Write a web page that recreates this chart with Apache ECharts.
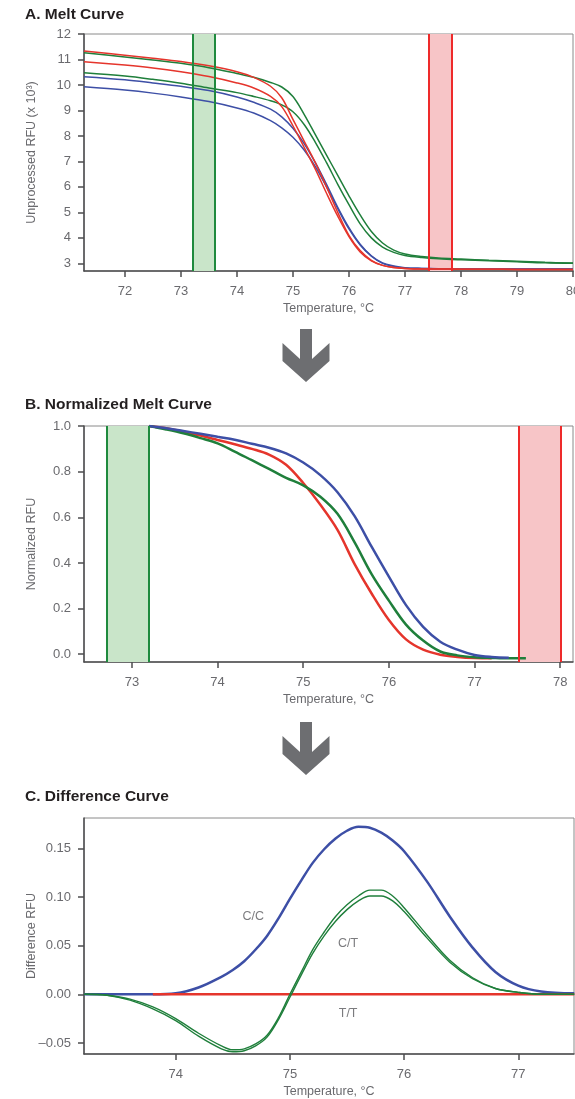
<!DOCTYPE html>
<html>
<head>
<meta charset="utf-8">
<title>Melt curve / difference curve</title>
<script src="https://cdn.jsdelivr.net/npm/echarts@6/dist/echarts.min.js"></script>
<style>
  html, body { margin: 0; padding: 0; background: #fff; }
  #chart { width: 575px; height: 1099px; }
</style>
</head>
<body>
<div id="chart"></div>
<script>
// A. raw melt curve (RFU x 10^3)
var tempA = [71.27, 72, 72.5, 73, 73.5, 74, 74.3, 74.6, 74.8, 75, 75.2, 75.4, 75.6, 75.8, 76, 76.2, 76.4, 76.6, 76.8, 77, 77.3, 77.6, 78, 78.5, 79, 79.5, 80];
var redA1 = [11.33, 11.17, 11.05, 10.92, 10.75, 10.52, 10.3, 9.95, 9.5, 8.65, 7.8, 6.95, 6.0, 5.0, 4.1, 3.5, 3.12, 2.92, 2.84, 2.8, 2.78, 2.78, 2.77, 2.77, 2.76, 2.76, 2.76];
var redA2 = [10.91, 10.78, 10.67, 10.52, 10.33, 10.08, 9.88, 9.55, 9.15, 8.4, 7.55, 6.7, 5.75, 4.85, 4.05, 3.45, 3.1, 2.92, 2.84, 2.8, 2.78, 2.78, 2.77, 2.77, 2.76, 2.76, 2.76];
var greenA1 = [11.26, 11.1, 10.98, 10.85, 10.68, 10.45, 10.3, 10.1, 9.92, 9.55, 8.85, 8.05, 7.25, 6.45, 5.65, 4.9, 4.25, 3.8, 3.52, 3.37, 3.27, 3.21, 3.17, 3.12, 3.08, 3.04, 3.01];
var greenA2 = [10.48, 10.35, 10.22, 10.07, 9.88, 9.7, 9.55, 9.38, 9.22, 8.95, 8.45, 7.75, 6.95, 6.1, 5.3, 4.55, 4.0, 3.64, 3.43, 3.31, 3.23, 3.18, 3.14, 3.1, 3.06, 3.02, 3.0];
var blueA1 = [10.32, 10.2, 10.08, 9.95, 9.78, 9.53, 9.32, 9.05, 8.75, 8.3, 7.7, 6.95, 6.1, 5.2, 4.4, 3.75, 3.3, 3.02, 2.9, 2.83, 2.8, 2.79, 2.78, 2.78, 2.78, 2.78, 2.78];
var blueA2 = [9.93, 9.8, 9.68, 9.53, 9.35, 9.1, 8.9, 8.6, 8.32, 7.95, 7.45, 6.8, 6.0, 5.15, 4.35, 3.72, 3.28, 3.0, 2.88, 2.82, 2.8, 2.79, 2.78, 2.78, 2.78, 2.78, 2.78];
var ticksAx = [72, 73, 74, 75, 76, 77, 78, 79, 80];
var ticksAy = [3, 4, 5, 6, 7, 8, 9, 10, 11, 12];
var preMeltA = [73.22, 73.6];
var postMeltA = [77.43, 77.83];

// B. normalized melt curve
var tempB = [73.2, 73.4, 73.6, 73.8, 74, 74.2, 74.4, 74.6, 74.8, 75, 75.2, 75.4, 75.6, 75.8, 76, 76.2, 76.4, 76.6, 76.8, 77, 77.2, 77.4, 77.6];
var blueB = [1.0, 0.99, 0.978, 0.966, 0.953, 0.94, 0.922, 0.905, 0.88, 0.84, 0.785, 0.71, 0.605, 0.47, 0.34, 0.215, 0.12, 0.055, 0.02, -0.003, -0.012, -0.015, null];
var greenB = [1.0, 0.985, 0.968, 0.947, 0.924, 0.888, 0.85, 0.812, 0.773, 0.74, 0.69, 0.615, 0.49, 0.35, 0.235, 0.13, 0.06, 0.012, -0.005, -0.013, -0.016, -0.018, -0.018];
var redB = [1.0, 0.99, 0.975, 0.958, 0.939, 0.92, 0.9, 0.875, 0.83, 0.75, 0.655, 0.545, 0.395, 0.265, 0.15, 0.065, 0.02, -0.002, -0.012, -0.017, -0.018, null, null];
var ticksBx = [73, 74, 75, 76, 77, 78];
var ticksBy = [0, 0.2, 0.4, 0.6, 0.8, 1.0];
var preMeltB = [72.7, 73.2];
var postMeltB = [77.52, 78.01];

// C. difference curve
var tempC = [73.2, 73.4, 73.6, 73.8, 74, 74.2, 74.4, 74.5, 74.6, 74.7, 74.8, 74.9, 75, 75.1, 75.2, 75.3, 75.4, 75.5, 75.6, 75.7, 75.8, 75.9, 76, 76.2, 76.4, 76.6, 76.8, 77, 77.2, 77.49];
var ccC = [0, 0, 0, 0, 0.001, 0.007, 0.018, 0.025, 0.034, 0.046, 0.06, 0.078, 0.098, 0.117, 0.135, 0.149, 0.16, 0.168, 0.172, 0.171, 0.166, 0.158, 0.147, 0.116, 0.08, 0.048, 0.023, 0.009, 0.003, 0.001];
var ctC1 = [0, -0.001, -0.005, -0.013, -0.025, -0.04, -0.053, -0.057, -0.056, -0.051, -0.042, -0.024, 0.0, 0.023, 0.046, 0.064, 0.08, 0.092, 0.101, 0.107, 0.107, 0.101, 0.089, 0.061, 0.035, 0.017, 0.006, 0.002, 0, 0];
var ctC2 = [0, -0.001, -0.006, -0.015, -0.027, -0.043, -0.056, -0.059, -0.058, -0.053, -0.044, -0.026, -0.003, 0.02, 0.042, 0.06, 0.075, 0.087, 0.096, 0.101, 0.101, 0.096, 0.085, 0.058, 0.033, 0.016, 0.006, 0.002, 0, 0];
var ttC = [null, null, null, 0, 0, 0, 0, 0, 0, 0, 0, 0, 0, 0, 0, 0, 0, 0, 0, 0, 0, 0, 0, 0, 0, 0, 0, 0, 0, 0];
var ticksCx = [74, 75, 76, 77];
var ticksCy = [-0.05, 0, 0.05, 0.1, 0.15];

var BLUE = '#3d4fa6';
var RED = '#e5352c';
var GREEN = '#1f7f3b';
var AXIS = '#4d4d4f';
var TEXT = '#6a6a6e';

function pairs(xs, ys) {
  var out = [];
  for (var i = 0; i < xs.length; i++) out.push([xs[i], ys[i]]);
  return out;
}

function xAx(idx, min, max, ticks, fmt) {
  return {
    type: 'value', gridIndex: idx, min: min, max: max,
    name: 'Temperature, \u00b0C', nameLocation: 'middle', nameGap: 31, nameMoveOverlap: false,
    nameTextStyle: { color: TEXT, fontSize: 12.5, fontFamily: 'Liberation Sans' },
    axisLine: { onZero: false, lineStyle: { color: AXIS, width: 1.5 } },
    axisTick: { length: 6, lineStyle: { color: AXIS, width: 1.5 }, customValues: ticks },
    axisLabel: { color: TEXT, fontSize: 13, margin: 14, customValues: ticks, formatter: fmt,
      hideOverlap: false, fontFamily: 'Liberation Sans' },
    splitLine: { show: false }
  };
}

function yAx(idx, min, max, ticks, name, fmt) {
  return {
    type: 'value', gridIndex: idx, min: min, max: max,
    name: name, nameLocation: 'middle', nameGap: 46, nameMoveOverlap: false,
    nameTextStyle: { color: TEXT, fontSize: 12.5, fontFamily: 'Liberation Sans' },
    axisLine: { show: true, onZero: false, lineStyle: { color: AXIS, width: 1.5 } },
    axisTick: { show: true, length: 6, lineStyle: { color: AXIS, width: 1.5 }, customValues: ticks },
    axisLabel: { color: TEXT, fontSize: 13, margin: 13, customValues: ticks, formatter: fmt,
      fontFamily: 'Liberation Sans' },
    splitLine: { show: false }
  };
}

function curve(idx, xs, ys, color, width) {
  return {
    type: 'line', xAxisIndex: idx, yAxisIndex: idx,
    data: pairs(xs, ys), smooth: 0.35, symbol: 'none', silent: true,
    lineStyle: { color: color, width: width }
  };
}

// shaded region with coloured edges (pre-/post-melt windows)
function band(idx, range, fill, edge) {
  return {
    type: 'line', xAxisIndex: idx, yAxisIndex: idx, data: [], silent: true,
    markArea: { silent: true, itemStyle: { color: fill }, data: [[{ xAxis: range[0] }, { xAxis: range[1] }]] },
    markLine: { silent: true, symbol: ['none', 'none'], label: { show: false },
      lineStyle: { color: edge, width: 2, type: 'solid' },
      data: [{ xAxis: range[0] }, { xAxis: range[1] }] }
  };
}

function arrow(cx, y0) {
  return {
    type: 'polygon',
    shape: { points: [
      [cx - 6, y0], [cx + 6, y0], [cx + 6, y0 + 30], [cx + 23.5, y0 + 14], [cx + 23.5, y0 + 32],
      [cx, y0 + 53], [cx - 23.5, y0 + 32], [cx - 23.5, y0 + 14], [cx - 6, y0 + 30]
    ] },
    style: { fill: '#6d6e71' }
  };
}

var titleStyle = { color: '#231f20', fontSize: 15.5, fontWeight: 'bold', fontFamily: 'Liberation Sans' };
var gridBase = { left: 84, show: true, borderColor: '#8a8a8a', borderWidth: 1, outerBoundsMode: 'none', containLabel: false };

var myChart = echarts.init(document.getElementById('chart'));
var option = {
  animation: false,
  backgroundColor: '#fff',
  title: [
    { text: 'A. Melt Curve', left: 25, top: 7, padding: 0, textStyle: titleStyle },
    { text: 'B. Normalized Melt Curve', left: 25, top: 397, padding: 0, textStyle: titleStyle },
    { text: 'C. Difference Curve', left: 25, top: 789, padding: 0, textStyle: titleStyle }
  ],
  grid: [
    Object.assign({ right: 2, top: 34, height: 237 }, gridBase),
    Object.assign({ right: 2, top: 426, height: 236 }, gridBase),
    Object.assign({ right: 1, top: 818, height: 236 }, gridBase)
  ],
  xAxis: [
    xAx(0, 71.27, 80, ticksAx),
    xAx(1, 72.44, 78.15, ticksBx),
    xAx(2, 73.197, 77.488, ticksCx)
  ],
  yAxis: [
    yAx(0, 2.7, 12, ticksAy, 'Unprocessed RFU (x 10\u00b3)'),
    yAx(1, -0.034, 1.0, ticksBy, 'Normalized RFU', function (v) { return v.toFixed(1); }),
    yAx(2, -0.0613, 0.1811, ticksCy, 'Difference RFU', function (v) {
      return v < 0 ? '\u2013' + (-v).toFixed(2) : v.toFixed(2);
    })
  ],
  series: [
    band(0, preMeltA, '#c9e5c9', '#1f8a3e'),
    band(0, postMeltA, '#f7c5c7', '#ee2a2a'),
    curve(0, tempA, blueA2, BLUE, 1.5),
    curve(0, tempA, blueA1, BLUE, 1.5),
    curve(0, tempA, greenA2, GREEN, 1.5),
    curve(0, tempA, greenA1, GREEN, 1.5),
    curve(0, tempA, redA2, RED, 1.5),
    curve(0, tempA, redA1, RED, 1.5),

    band(1, preMeltB, '#c9e5c9', '#1f8a3e'),
    band(1, postMeltB, '#f7c5c7', '#ee2a2a'),
    curve(1, tempB, redB, RED, 2.5),
    curve(1, tempB, greenB, GREEN, 2.5),
    curve(1, tempB, blueB, BLUE, 2.5),

    curve(2, tempC, ccC, BLUE, 2.5),
    curve(2, tempC, ttC, RED, 2.5),
    curve(2, tempC, ctC1, GREEN, 1.4),
    curve(2, tempC, ctC2, GREEN, 1.4),
    {
      type: 'scatter', xAxisIndex: 2, yAxisIndex: 2, silent: true,
      symbolSize: 0, data: [[74.68, 0.0797, 'C/C'], [75.51, 0.0524, 'C/T'], [75.51, -0.0195, 'T/T']],
      label: { show: true, position: 'inside', color: '#5a5a5e', fontSize: 12.5, fontFamily: 'Liberation Sans',
        formatter: function (p) { return p.data[2]; } }
    }
  ],
  graphic: [arrow(306, 329), arrow(306, 722)]
};
myChart.setOption(option);
</script>
</body>
</html>
